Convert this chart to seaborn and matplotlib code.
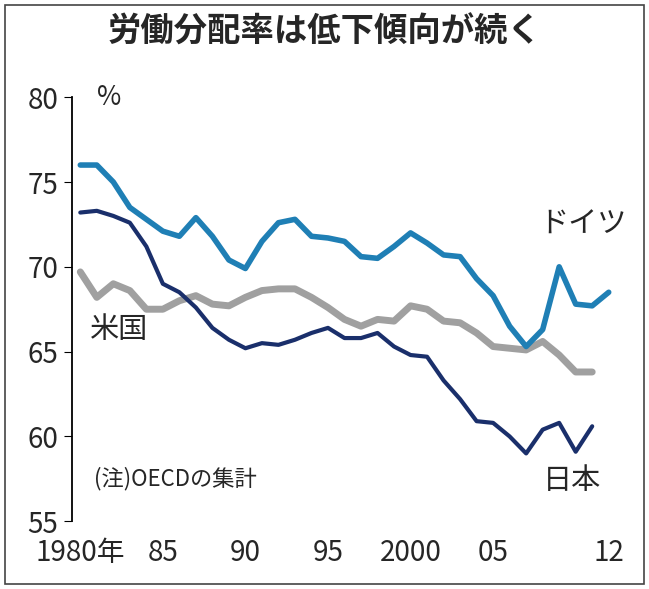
import numpy as np
import pandas as pd
import matplotlib
matplotlib.use('Agg')
import matplotlib.pyplot as plt
import seaborn as sns

sns.set_style('white')
plt.rcParams['font.family'] = ['Noto Sans CJK JP', 'DejaVu Sans']

years_de = list(range(1980, 2013))
germany = [76.0, 76.0, 75.0, 73.5, 72.8, 72.1, 71.8, 72.9, 71.8, 70.4, 69.9, 71.5,
           72.6, 72.8, 71.8, 71.7, 71.5, 70.6, 70.5, 71.2, 72.0, 71.4, 70.7, 70.6,
           69.3, 68.3, 66.5, 65.3, 66.3, 70.0, 67.8, 67.7, 68.5]
years_jp = list(range(1980, 2012))
japan = [73.2, 73.3, 73.0, 72.6, 71.2, 69.0, 68.5, 67.6, 66.4, 65.7, 65.2, 65.5,
         65.4, 65.7, 66.1, 66.4, 65.8, 65.8, 66.1, 65.3, 64.8, 64.7, 63.3, 62.2,
         60.9, 60.8, 60.0, 59.0, 60.4, 60.8, 59.1, 60.6]
years_us = list(range(1980, 2012))
usa = [69.7, 68.2, 69.0, 68.6, 67.5, 67.5, 68.0, 68.3, 67.8, 67.7, 68.2, 68.6,
       68.7, 68.7, 68.2, 67.6, 66.9, 66.5, 66.9, 66.8, 67.7, 67.5, 66.8, 66.7,
       66.1, 65.3, 65.2, 65.1, 65.6, 64.8, 63.8, 63.8]
xticks = [1980, 1985, 1990, 1995, 2000, 2005, 2012]
xticklabels = ['1980年', '85', '90', '95', '2000', '05', '12']

fig = plt.figure(figsize=(6.49, 5.89), dpi=100)
fig.patches.append(plt.Rectangle((0.008, 0.008), 0.984, 0.984, transform=fig.transFigure,
                                 fill=False, edgecolor='#444444', lw=1.2))
fig.text(0.5, 0.945, '労働分配率は低下傾向が続く', ha='center', va='center',
         fontsize=24, fontweight='bold')

ax = fig.add_axes([0.111, 0.115, 0.86, 0.72])
sns.lineplot(x=years_us, y=usa, color='#a0a0a0', lw=5, ax=ax)
sns.lineplot(x=years_jp, y=japan, color='#1a2f6b', lw=3, ax=ax)
sns.lineplot(x=years_de, y=germany, color='#1f7fb5', lw=4, ax=ax)

ax.set_xlim(1979.5, 2013.3)
ax.set_ylim(55, 80)
ax.set_yticks([55, 60, 65, 70, 75, 80])
ax.set_xticks(xticks)
ax.set_xticklabels(xticklabels)
for s in ['top', 'right', 'bottom']:
    ax.spines[s].set_visible(False)
ax.spines['left'].set_color('black')
ax.spines['left'].set_linewidth(1.3)
ax.tick_params(axis='both', labelsize=20, length=6, color='black', direction='out',
               left=True, bottom=True)
ax.tick_params(axis='x', length=0, pad=12)
ax.tick_params(axis='y', pad=4)

ax.text(1981.0, 80, '%', fontsize=19, va='center')
ax.text(2007.8, 72.0, 'ドイツ', fontsize=21)
ax.text(1980.6, 65.8, '米国', fontsize=21)
ax.text(2008.0, 56.9, '日本', fontsize=21)
ax.text(1980.8, 57.1, '(注)OECDの集計', fontsize=16)

plt.savefig('out.png', dpi=100)
